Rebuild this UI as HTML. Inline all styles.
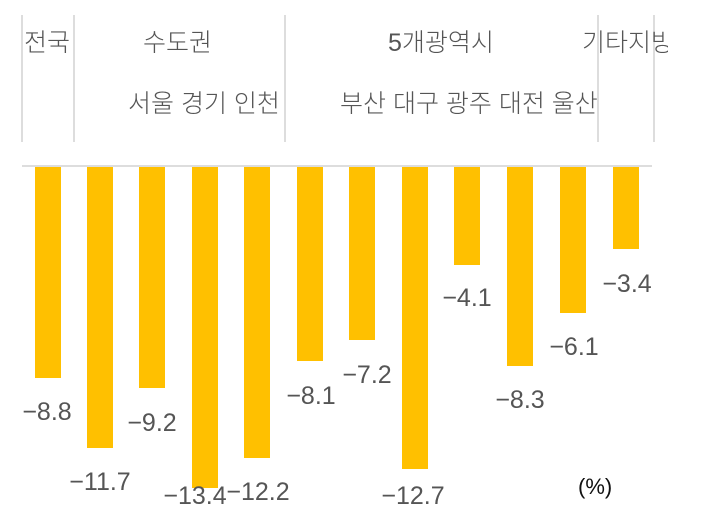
<!DOCTYPE html>
<html><head><meta charset="utf-8"><style>
body{margin:0;background:#fff;width:707px;height:525px;overflow:hidden;position:relative;font-family:"Liberation Sans","Noto Sans CJK KR",sans-serif;}
.t{position:absolute;color:#555;font-size:25px;white-space:nowrap;font-weight:300}
.v{position:absolute;top:15px;height:127px;width:2px;background:#ddd}
.b{position:absolute;top:167px;width:26px;background:#FFC000}
.l{position:absolute;color:#555;font-size:25px;transform:translateX(-50%);white-space:nowrap}
</style></head><body>
<div class="v" style="left:21px"></div>
<div class="v" style="left:73px"></div>
<div class="v" style="left:284px"></div>
<div class="v" style="left:597px"></div>
<div class="v" style="left:653px"></div>
<div style="position:absolute;left:22px;top:165px;width:630px;height:2px;background:#ddd"></div>
<div class="t" style="left:24px;top:23px">전국</div>
<div class="t" style="left:143px;top:23px">수도권</div>
<div class="t" style="left:388px;top:23px">5개광역시</div>
<div class="t" style="left:582px;top:23px;width:86px;overflow:hidden">기타지방</div>
<div class="t" style="left:128px;top:84px">서울 경기 인천</div>
<div class="t" style="left:340px;top:84px">부산 대구 광주 대전 울산</div>
<div class="b" style="left:35px;height:211px"></div>
<div class="b" style="left:87px;height:281px"></div>
<div class="b" style="left:139px;height:221px"></div>
<div class="b" style="left:192px;height:321px"></div>
<div class="b" style="left:244px;height:291px"></div>
<div class="b" style="left:297px;height:194px"></div>
<div class="b" style="left:349px;height:173px"></div>
<div class="b" style="left:402px;height:302px"></div>
<div class="b" style="left:454px;height:98px"></div>
<div class="b" style="left:507px;height:199px"></div>
<div class="b" style="left:560px;height:146px"></div>
<div class="b" style="left:613px;height:82px"></div>
<div class="l" style="left:47px;top:398px">−8.8</div>
<div class="l" style="left:100px;top:468px">−11.7</div>
<div class="l" style="left:152px;top:409px">−9.2</div>
<div class="l" style="left:195px;top:482px">−13.4</div>
<div class="l" style="left:258px;top:478px">−12.2</div>
<div class="l" style="left:311px;top:382px">−8.1</div>
<div class="l" style="left:367px;top:361px">−7.2</div>
<div class="l" style="left:413px;top:482px">−12.7</div>
<div class="l" style="left:467px;top:284px">−4.1</div>
<div class="l" style="left:520px;top:386px">−8.3</div>
<div class="l" style="left:574px;top:333px">−6.1</div>
<div class="l" style="left:627px;top:270px">−3.4</div>
<div style="position:absolute;left:578px;top:474px;font-size:22px;color:#111">(%)</div>
</body></html>
